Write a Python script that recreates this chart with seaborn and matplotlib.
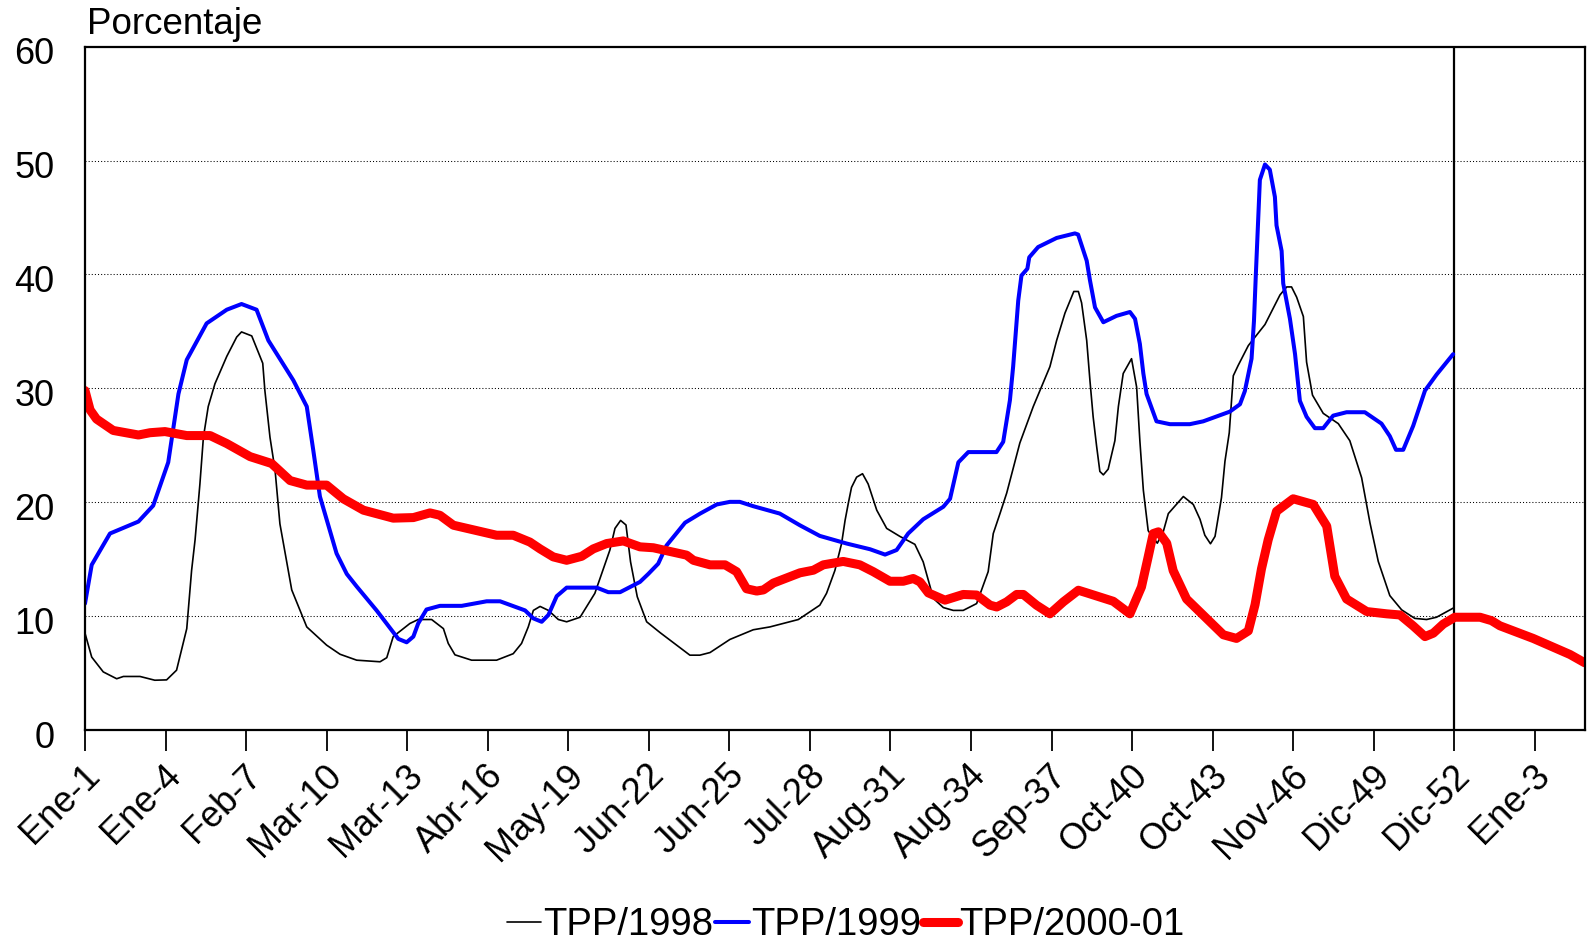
import matplotlib
matplotlib.use("Agg")
import matplotlib.pyplot as plt
import matplotlib.transforms as mtransforms
import seaborn as sns
import pandas as pd

# Week index (1 = first week of January) and percentage for each season
PTS_1998 = [
    (1.0, 8.5), (1.25, 6.4), (1.68, 5.1), (2.18, 4.5), (2.43, 4.7), (3.05, 4.7),
    (3.6, 4.37), (4.04, 4.4), (4.41, 5.25), (4.79, 8.9), (4.97, 14.0), (5.1, 16.7),
    (5.28, 21.6), (5.41, 25.7), (5.59, 28.4), (5.84, 30.4), (6.28, 32.8), (6.65, 34.5),
    (6.83, 34.95), (7.21, 34.6), (7.62, 32.2), (7.7, 29.8), (7.89, 25.7), (8.08, 22.8),
    (8.26, 18.1), (8.7, 12.3), (9.26, 9.05), (10.0, 7.45), (10.5, 6.65), (11.12, 6.13),
    (11.99, 5.99), (12.24, 6.35), (12.48, 8.2), (12.86, 8.9), (13.1, 9.35), (13.41, 9.7),
    (13.91, 9.7), (14.35, 8.9), (14.53, 7.6), (14.78, 6.6), (15.4, 6.13), (16.33, 6.13),
    (16.95, 6.7), (17.26, 7.6), (17.51, 9.05), (17.7, 10.5), (17.95, 10.85), (18.26, 10.5),
    (18.63, 9.7), (18.94, 9.5), (19.44, 9.9), (19.99, 12.0), (20.55, 15.8), (20.74, 17.7),
    (20.95, 18.4), (21.15, 18.0), (21.32, 14.76), (21.57, 11.7), (21.92, 9.5), (22.42, 8.55),
    (23.53, 6.57), (23.9, 6.57), (24.28, 6.8), (25.02, 7.95), (25.89, 8.8), (26.51, 9.05),
    (27.57, 9.7), (28.37, 10.96), (28.62, 12.0), (28.93, 14.0), (29.18, 16.37), (29.31, 18.4),
    (29.43, 19.9), (29.55, 21.3), (29.74, 22.2), (29.96, 22.5), (30.17, 21.6), (30.49, 19.3),
    (30.86, 17.7), (31.35, 17.0), (31.91, 16.3), (32.22, 14.76), (32.41, 13.15), (32.6, 11.55),
    (32.97, 10.75), (33.34, 10.5), (33.71, 10.5), (34.21, 11.1), (34.64, 13.9), (34.83, 17.25),
    (35.08, 19.0), (35.33, 20.8), (35.82, 25.2), (36.32, 28.4), (36.94, 31.9), (37.19, 34.2),
    (37.5, 36.6), (37.69, 37.7), (37.83, 38.5), (38.0, 38.5), (38.12, 37.5), (38.31, 34.2),
    (38.43, 30.7), (38.55, 27.5), (38.68, 24.9), (38.8, 22.7), (38.93, 22.4), (39.11, 22.9),
    (39.36, 25.4), (39.49, 28.4), (39.67, 31.3), (39.98, 32.6), (40.17, 30.1), (40.29, 25.4),
    (40.42, 21.05), (40.6, 17.5), (40.94, 16.4), (41.16, 17.4), (41.35, 19.0), (41.91, 20.5),
    (42.28, 19.8), (42.53, 18.5), (42.71, 17.1), (42.92, 16.35), (43.09, 17.0), (43.33, 20.4),
    (43.46, 23.6), (43.62, 26.1), (43.77, 31.1), (43.95, 32.0), (44.33, 33.75), (44.95, 35.6),
    (45.51, 38.2), (45.76, 38.9), (45.94, 38.9), (46.13, 38.0), (46.38, 36.3), (46.5, 32.3),
    (46.72, 29.4), (47.12, 27.8), (47.68, 26.9), (48.11, 25.4), (48.55, 22.15), (48.86, 18.2),
    (49.17, 14.8), (49.6, 11.8), (50.04, 10.55), (50.53, 9.8), (50.97, 9.7), (51.34, 9.9),
    (51.96, 10.7),
]

PTS_1999 = [
    (1.0, 11.1), (1.25, 14.5), (1.93, 17.25), (2.99, 18.3), (3.54, 19.7), (4.1, 23.5),
    (4.48, 29.5), (4.79, 32.5), (5.53, 35.7), (6.28, 36.9), (6.83, 37.4), (7.39, 36.9),
    (7.83, 34.2), (8.76, 30.7), (9.26, 28.4), (9.5, 24.6), (9.75, 20.5), (10.37, 15.5),
    (10.75, 13.7), (11.12, 12.6), (11.86, 10.5), (12.67, 8.0), (12.98, 7.7), (13.23, 8.2),
    (13.41, 9.35), (13.72, 10.58), (14.22, 10.9), (15.03, 10.9), (15.96, 11.3), (16.46, 11.3),
    (17.39, 10.5), (17.7, 9.8), (18.01, 9.5), (18.26, 10.1), (18.57, 11.75), (18.94, 12.5),
    (20.06, 12.5), (20.49, 12.1), (20.93, 12.1), (21.67, 13.0), (21.98, 13.7), (22.35, 14.6),
    (22.66, 16.2), (23.35, 18.2), (23.91, 19.0), (24.53, 19.8), (25.02, 20.03), (25.39, 20.03),
    (25.89, 19.65), (26.88, 19.0), (27.63, 17.97), (28.37, 17.04), (29.37, 16.37), (30.24, 15.87),
    (30.8, 15.4), (31.23, 15.8), (31.66, 17.25), (32.22, 18.5), (32.97, 19.6), (33.22, 20.3),
    (33.53, 23.5), (33.9, 24.4), (34.95, 24.4), (35.2, 25.3), (35.45, 28.95), (35.57, 31.9),
    (35.76, 37.7), (35.88, 39.9), (36.1, 40.5), (36.17, 41.5), (36.5, 42.4), (37.19, 43.2),
    (37.87, 43.6), (37.99, 43.5), (38.31, 41.2), (38.43, 39.5), (38.62, 37.1), (38.93, 35.8),
    (39.42, 36.36), (39.92, 36.7), (40.11, 36.1), (40.29, 33.9), (40.42, 31.3), (40.54, 29.5),
    (40.91, 27.1), (41.41, 26.85), (42.15, 26.85), (42.65, 27.1), (43.64, 27.95), (44.02, 28.6),
    (44.2, 29.75), (44.45, 32.6), (44.54, 35.9), (44.61, 40.0), (44.76, 48.3), (44.95, 49.65),
    (45.13, 49.2), (45.32, 46.8), (45.38, 44.3), (45.57, 42.06), (45.63, 39.2), (45.88, 36.1),
    (46.07, 33.0), (46.25, 28.9), (46.5, 27.5), (46.81, 26.5), (47.12, 26.5), (47.49, 27.6),
    (47.99, 27.9), (48.67, 27.9), (49.29, 26.9), (49.6, 25.8), (49.83, 24.6), (50.1, 24.6),
    (50.47, 26.7), (50.91, 29.8), (51.34, 31.2), (51.96, 33.0),
]

PTS_2000 = [
    (1.0, 29.8), (1.19, 28.1), (1.43, 27.3), (2.05, 26.3), (2.99, 25.9), (3.42, 26.1),
    (3.98, 26.2), (4.79, 25.85), (5.66, 25.85), (6.28, 25.15), (7.15, 24.0), (7.95, 23.4),
    (8.64, 21.9), (9.26, 21.5), (10.0, 21.5), (10.62, 20.3), (11.37, 19.3), (12.48, 18.6),
    (13.23, 18.65), (13.85, 19.06), (14.22, 18.85), (14.72, 17.98), (16.33, 17.1), (16.95, 17.1),
    (17.57, 16.5), (17.95, 15.9), (18.44, 15.2), (18.94, 14.9), (19.5, 15.25), (19.93, 15.9),
    (20.43, 16.37), (21.05, 16.6), (21.67, 16.08), (22.17, 16.0), (23.41, 15.35), (23.66, 14.9),
    (24.28, 14.5), (24.84, 14.5), (25.27, 13.9), (25.64, 12.4), (26.02, 12.2), (26.27, 12.3),
    (26.64, 12.9), (27.63, 13.8), (28.13, 14.03), (28.5, 14.5), (29.24, 14.8), (29.86, 14.5),
    (30.36, 13.9), (30.98, 13.06), (31.48, 13.06), (31.85, 13.3), (32.1, 13.0), (32.41, 12.04),
    (33.03, 11.4), (33.71, 11.9), (34.21, 11.85), (34.71, 10.96), (34.96, 10.8), (35.33, 11.25),
    (35.7, 11.9), (35.95, 11.9), (36.44, 10.96), (36.94, 10.2), (37.44, 11.25), (38.0, 12.27),
    (38.3, 12.05), (39.3, 11.3), (39.92, 10.2), (40.35, 12.56), (40.6, 15.2), (40.79, 17.25),
    (40.98, 17.4), (41.29, 16.4), (41.53, 14.0), (42.03, 11.5), (42.65, 10.08), (43.4, 8.36),
    (43.89, 8.04), (44.33, 8.7), (44.58, 11.0), (44.82, 14.15), (45.07, 16.7), (45.38, 19.2),
    (46.0, 20.3), (46.75, 19.8), (47.25, 17.9), (47.55, 13.5), (47.99, 11.5), (48.74, 10.4),
    (49.48, 10.2), (49.98, 10.1), (50.47, 9.14), (50.91, 8.2), (51.22, 8.5), (51.59, 9.3),
    (52.02, 9.9), (52.96, 9.9), (53.39, 9.6), (53.7, 9.15), (54.94, 8.04), (56.31, 6.63),
    (56.86, 5.9),
]

TICK_WEEKS = [1, 4, 7, 10, 13, 16, 19, 22, 25, 28, 31, 34, 37, 40, 43, 46, 49, 52, 55]
TICK_LABELS = ["Ene-1", "Ene-4", "Feb-7", "Mar-10", "Mar-13", "Abr-16", "May-19",
               "Jun-22", "Jun-25", "Jul-28", "Aug-31", "Aug-34", "Sep-37", "Oct-40",
               "Oct-43", "Nov-46", "Dic-49", "Dic-52", "Ene-3"]
Y_TICKS = [0, 10, 20, 30, 40, 50, 60]
SERIES = ["TPP/1998", "TPP/1999", "TPP/2000-01"]

sns.set_theme(style="white")
plt.rcParams["font.family"] = ["Liberation Sans", "DejaVu Sans"]
plt.rcParams.update({
    "text.color": "black",
    "axes.labelcolor": "black",
    "xtick.color": "black",
    "ytick.color": "black",
})

W, H = 1587, 942
fig = plt.figure(figsize=(W / 100, H / 100), dpi=100)
ax = fig.add_axes([85 / W, (H - 730) / H, 1500 / W, (730 - 46.6) / H])

styles = [
    (PTS_1998, "black", 1.2),
    (PTS_1999, "#0000FF", 2.9),
    (PTS_2000, "#FF0000", 6.5),
]
for name, (pts, color, lw) in zip(SERIES, styles):
    df = pd.DataFrame(pts, columns=["semana", "pct"])
    sns.lineplot(data=df, x="semana", y="pct", ax=ax, color=color, linewidth=lw,
                 label=name, sort=False, estimator=None,
                 solid_capstyle="round", solid_joinstyle="round")

# dotted horizontal guides
for v in Y_TICKS[1:-1]:
    ax.axhline(v, color="black", linewidth=0.75, linestyle=(0, (1, 2)), zorder=0)

# end-of-year marker
ax.axvline(52, color="black", linewidth=1.6, zorder=1)

ax.set_xlim(1, 56.87)
ax.set_ylim(0, 60)
ax.set_xticks(TICK_WEEKS)
ax.set_xticklabels(TICK_LABELS, rotation=45, ha="right", va="center",
                   rotation_mode="anchor", fontsize=26)
ax.set_yticks(Y_TICKS)
ax.set_yticklabels([str(v) for v in Y_TICKS], fontsize=26)
ax.set_xlabel("")
ax.set_ylabel("")

for side in ["left", "right", "top", "bottom"]:
    ax.spines[side].set_visible(True)
    ax.spines[side].set_color("black")
    ax.spines[side].set_linewidth(1.6)

ax.tick_params(axis="x", direction="out", length=15, width=1.3, color="black",
               pad=14, bottom=True)
ax.tick_params(axis="y", length=0, pad=22, left=False)

yshift = mtransforms.ScaledTranslation(0, -4 / 100, fig.dpi_scale_trans)
for lab in ax.get_yticklabels():
    lab.set_transform(lab.get_transform() + yshift)
xshift = mtransforms.ScaledTranslation(10 / 100, 0, fig.dpi_scale_trans)
for lab in ax.get_xticklabels():
    lab.set_transform(lab.get_transform() + xshift)

fig.text(87 / W, 1 - 34 / H, "Porcentaje", fontsize=26.5, ha="left", va="baseline")

handles, labels = ax.get_legend_handles_labels()
ax.get_legend().remove()
fig.legend(handles, labels, loc="center", bbox_to_anchor=(0.533, 0.018), ncol=3,
           frameon=False, fontsize=27.5, handlelength=0.9, handletextpad=0.05,
           columnspacing=0.05, borderpad=0, borderaxespad=0)

fig.savefig("out.png", dpi=100, facecolor="white")
